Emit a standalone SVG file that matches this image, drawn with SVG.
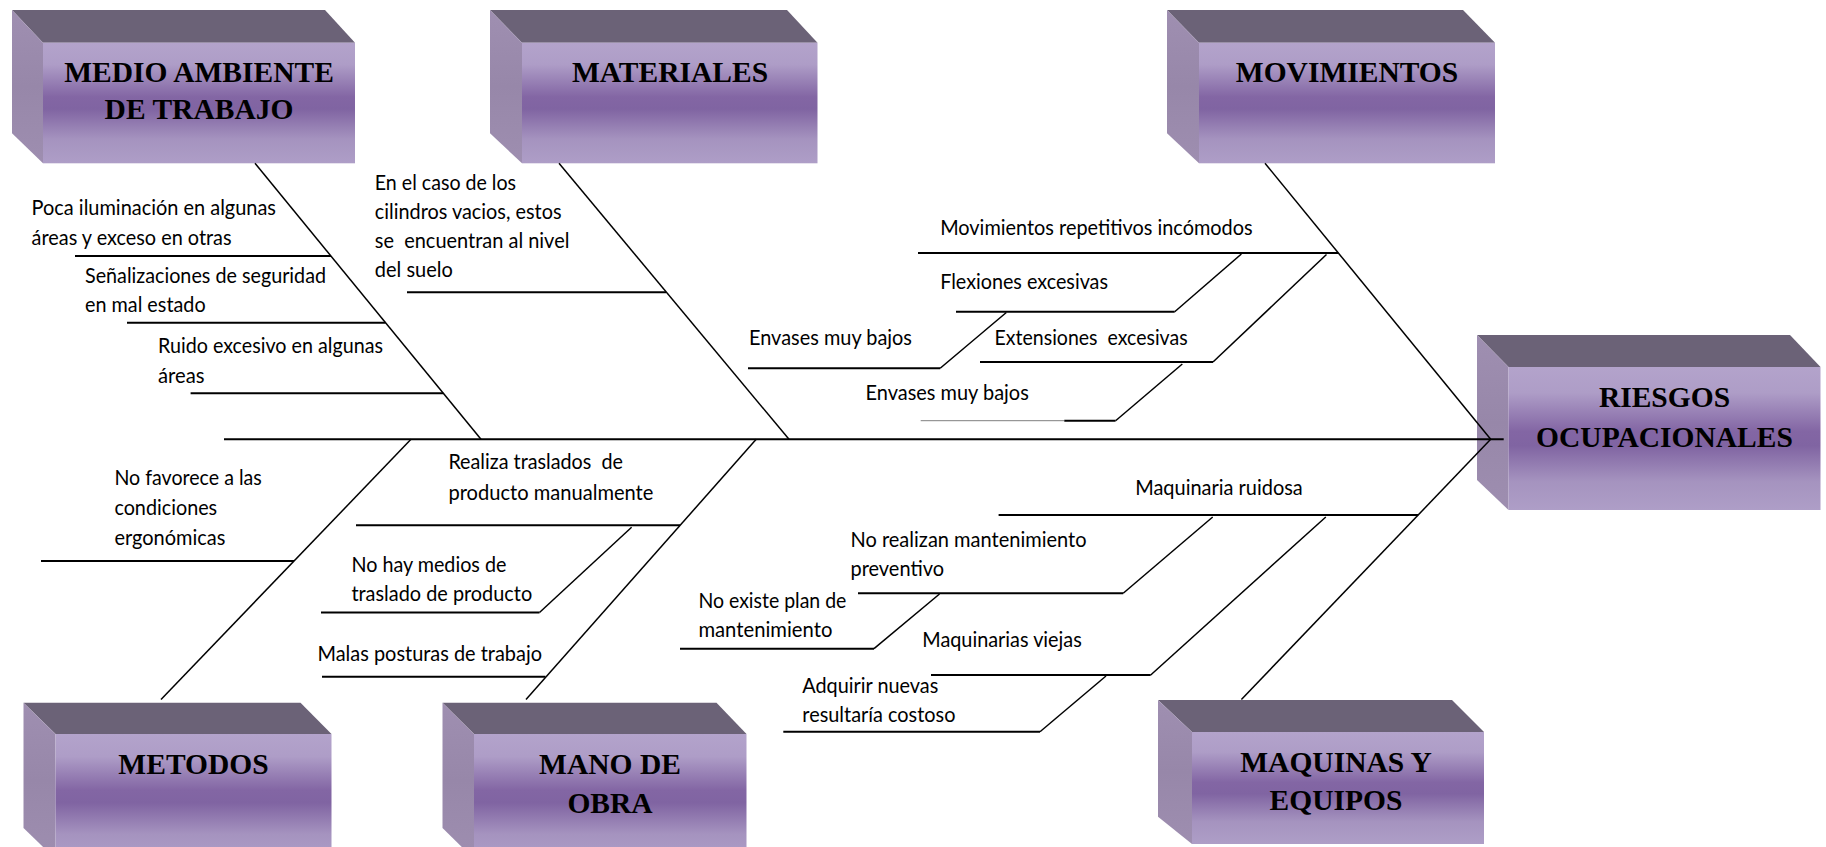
<svg xmlns="http://www.w3.org/2000/svg" width="1826" height="847" viewBox="0 0 1826 847">
<defs>
<linearGradient id="gFront" x1="0" y1="0" x2="0" y2="1">
<stop offset="0" stop-color="#b3a3cb"/>
<stop offset="0.18" stop-color="#ae9dc7"/>
<stop offset="0.45" stop-color="#8366a4"/>
<stop offset="0.55" stop-color="#8064a2"/>
<stop offset="0.8" stop-color="#a593bf"/>
<stop offset="1" stop-color="#ae9ec7"/>
</linearGradient>
<linearGradient id="gSide" x1="0" y1="0" x2="0" y2="1">
<stop offset="0" stop-color="#9f8fb1"/>
<stop offset="0.5" stop-color="#9787a9"/>
<stop offset="1" stop-color="#9e8eb0"/>
</linearGradient>
<style>
.top{fill:#6b6277}
.side{fill:url(#gSide)}
.front{fill:url(#gFront)}
.title{font-family:"Liberation Serif","Times New Roman",serif;font-weight:bold;font-size:29.5px;fill:#000;text-anchor:middle}
.lbl{font-family:Lato,"Open Sans","Liberation Sans",sans-serif;font-size:20.5px;fill:#000;white-space:pre}
.h{stroke:#000;stroke-width:2;fill:none}
.d{stroke:#000;stroke-width:1.5;fill:none}
.g{stroke:#7f7f7f;stroke-width:1;fill:none}
</style>
</defs>
<rect width="1826" height="847" fill="#fff"/>

<g id="medio-ambiente">
<polygon class="top" points="12,10 325,10 355,42.7 43,42.7"/>
<polygon class="side" points="12,10 43,42.7 43,163.3 12,133.3"/>
<rect class="front" x="43" y="42.7" width="312" height="120.6"/>
<text class="title" x="199" y="82">MEDIO AMBIENTE</text>
<text class="title" x="199" y="119">DE TRABAJO</text>
</g>

<g id="materiales">
<polygon class="top" points="490,10 787,10 817.5,42.7 522,42.7"/>
<polygon class="side" points="490,10 522,42.7 522,163.3 490,133.3"/>
<rect class="front" x="522" y="42.7" width="295.5" height="120.6"/>
<text class="title" x="670" y="82">MATERIALES</text>
</g>

<g id="movimientos">
<polygon class="top" points="1167,10 1463,10 1495,42.7 1199,42.7"/>
<polygon class="side" points="1167,10 1199,42.7 1199,163.3 1167,133.3"/>
<rect class="front" x="1199" y="42.7" width="296" height="120.6"/>
<text class="title" x="1347" y="82">MOVIMIENTOS</text>
</g>

<g id="riesgos-ocupacionales">
<polygon class="top" points="1477,335 1790,335 1820.5,367 1508.5,367"/>
<polygon class="side" points="1477,335 1508.5,367 1508.5,510 1477,480"/>
<rect class="front" x="1508.5" y="367" width="312" height="143"/>
<text class="title" x="1664.5" y="407">RIESGOS</text>
<text class="title" x="1664.5" y="447">OCUPACIONALES</text>
</g>

<g id="metodos">
<polygon class="top" points="23.5,702.7 300.5,702.7 331.5,734 55.5,734"/>
<polygon class="side" points="23.5,702.7 55.5,734 55.5,859 23.5,828"/>
<rect class="front" x="55.5" y="734" width="276" height="125"/>
<text class="title" x="193.5" y="773.5">METODOS</text>
</g>

<g id="mano-de-obra">
<polygon class="top" points="442.5,702.7 716.5,702.7 746.5,734 474,734"/>
<polygon class="side" points="442.5,702.7 474,734 474,859 442.5,828"/>
<rect class="front" x="474" y="734" width="272.5" height="125"/>
<text class="title" x="610" y="773.5">MANO DE</text>
<text class="title" x="610" y="812.5">OBRA</text>
</g>

<g id="maquinas-y-equipos">
<polygon class="top" points="1158,700 1452,700 1484,732 1192,732"/>
<polygon class="side" points="1158,700 1192,732 1192,844 1158,816.7"/>
<rect class="front" x="1192" y="732" width="292" height="112"/>
<text class="title" x="1336" y="771.5">MAQUINAS Y</text>
<text class="title" x="1336" y="810">EQUIPOS</text>
</g>

<g id="connectors">
<line class="h" x1="224" y1="439.3" x2="1503.7" y2="439.3"/>
<line class="d" x1="255" y1="163.3" x2="481" y2="439.3"/>
<line class="d" x1="559" y1="163.3" x2="789" y2="439.3"/>
<line class="d" x1="1265" y1="163.3" x2="1490.7" y2="439.3"/>
<line class="d" x1="1490.7" y1="439.3" x2="1241.4" y2="699.5"/>
<line class="d" x1="411" y1="439.3" x2="161" y2="699.5"/>
<line class="d" x1="756.2" y1="439.3" x2="526" y2="699.5"/>
<line class="h" x1="75" y1="256" x2="331" y2="256"/>
<line class="h" x1="127" y1="322.7" x2="385.5" y2="322.7"/>
<line class="h" x1="190.6" y1="393.3" x2="443.3" y2="393.3"/>
<line class="h" x1="407" y1="292.3" x2="666" y2="292.3"/>
<line class="h" x1="918" y1="253" x2="1338.2" y2="253"/>
<line class="d" x1="1241.4" y1="254" x2="1174.7" y2="311.7"/>
<line class="h" x1="956" y1="311.7" x2="1174.7" y2="311.7"/>
<line class="d" x1="1006.3" y1="312.5" x2="940.2" y2="368.3"/>
<line class="h" x1="748" y1="368.3" x2="940.2" y2="368.3"/>
<line class="d" x1="1326.5" y1="254.5" x2="1213" y2="362"/>
<line class="h" x1="980" y1="362" x2="1213" y2="362"/>
<line class="d" x1="1182.3" y1="364" x2="1115.6" y2="420.7"/>
<line class="g" x1="920.7" y1="420.7" x2="1064.3" y2="420.7"/>
<line class="h" x1="1064.3" y1="420.7" x2="1115.6" y2="420.7"/>
<line class="h" x1="41" y1="561" x2="294" y2="561"/>
<line class="h" x1="356" y1="525.3" x2="680" y2="525.3"/>
<line class="d" x1="631.6" y1="527.3" x2="539.5" y2="612.5"/>
<line class="h" x1="321" y1="612.5" x2="539.5" y2="612.5"/>
<line class="h" x1="322" y1="676.7" x2="545.5" y2="676.7"/>
<line class="h" x1="998.6" y1="515" x2="1418.2" y2="515"/>
<line class="d" x1="1212.7" y1="517" x2="1123.2" y2="593.3"/>
<line class="h" x1="858" y1="593.3" x2="1123.2" y2="593.3"/>
<line class="d" x1="939.5" y1="594" x2="874" y2="648.7"/>
<line class="h" x1="680" y1="648.7" x2="874" y2="648.7"/>
<line class="d" x1="1325.8" y1="517" x2="1150.7" y2="675"/>
<line class="h" x1="931" y1="675" x2="1150.7" y2="675"/>
<line class="d" x1="1106" y1="676" x2="1040" y2="731.7"/>
<line class="h" x1="783.3" y1="731.7" x2="1040" y2="731.7"/>
</g>

<g id="labels-medio-ambiente">
<text class="lbl" x="31.6" y="215" textLength="244.4" lengthAdjust="spacingAndGlyphs">Poca iluminación en algunas</text>
<text class="lbl" x="31.6" y="245" textLength="200" lengthAdjust="spacingAndGlyphs">áreas y exceso en otras</text>
<text class="lbl" x="85" y="283" textLength="241" lengthAdjust="spacingAndGlyphs">Señalizaciones de seguridad</text>
<text class="lbl" x="85" y="312" textLength="120.6" lengthAdjust="spacingAndGlyphs">en mal estado</text>
<text class="lbl" x="158" y="353" textLength="225" lengthAdjust="spacingAndGlyphs">Ruido excesivo en algunas</text>
<text class="lbl" x="158" y="382.5" textLength="46.5" lengthAdjust="spacingAndGlyphs">áreas</text>
</g>

<g id="labels-materiales">
<text class="lbl" x="374.8" y="190" textLength="141.3" lengthAdjust="spacingAndGlyphs">En el caso de los</text>
<text class="lbl" x="374.8" y="219" textLength="186.7" lengthAdjust="spacingAndGlyphs">cilindros vacios, estos</text>
<text class="lbl" x="374.8" y="248" textLength="194.6" lengthAdjust="spacingAndGlyphs">se  encuentran al nivel</text>
<text class="lbl" x="374.8" y="277" textLength="78" lengthAdjust="spacingAndGlyphs">del suelo</text>
</g>

<g id="labels-movimientos">
<text class="lbl" x="940.2" y="234.5" textLength="312.4" lengthAdjust="spacingAndGlyphs">Movimientos repetitivos incómodos</text>
<text class="lbl" x="940.2" y="288.5" textLength="167.8" lengthAdjust="spacingAndGlyphs">Flexiones excesivas</text>
<text class="lbl" x="749" y="345" textLength="163" lengthAdjust="spacingAndGlyphs">Envases muy bajos</text>
<text class="lbl" x="994.6" y="344.5" textLength="193" lengthAdjust="spacingAndGlyphs">Extensiones  excesivas</text>
<text class="lbl" x="865.5" y="400" textLength="163.3" lengthAdjust="spacingAndGlyphs">Envases muy bajos</text>
</g>

<g id="labels-metodos">
<text class="lbl" x="114.4" y="484.5" textLength="147.4" lengthAdjust="spacingAndGlyphs">No favorece a las</text>
<text class="lbl" x="114.4" y="515" textLength="102.8" lengthAdjust="spacingAndGlyphs">condiciones</text>
<text class="lbl" x="114.4" y="545" textLength="111" lengthAdjust="spacingAndGlyphs">ergonómicas</text>
</g>

<g id="labels-mano-de-obra">
<text class="lbl" x="448.4" y="469" textLength="174.5" lengthAdjust="spacingAndGlyphs">Realiza traslados  de</text>
<text class="lbl" x="448.4" y="499.5" textLength="205" lengthAdjust="spacingAndGlyphs">producto manualmente</text>
<text class="lbl" x="351.4" y="571.5" textLength="155" lengthAdjust="spacingAndGlyphs">No hay medios de</text>
<text class="lbl" x="351.4" y="600.5" textLength="180.8" lengthAdjust="spacingAndGlyphs">traslado de producto</text>
<text class="lbl" x="317.5" y="660.5" textLength="224.5" lengthAdjust="spacingAndGlyphs">Malas posturas de trabajo</text>
</g>

<g id="labels-maquinas">
<text class="lbl" x="1135.2" y="494.5" textLength="167.6" lengthAdjust="spacingAndGlyphs">Maquinaria ruidosa</text>
<text class="lbl" x="850.5" y="546.5" textLength="236" lengthAdjust="spacingAndGlyphs">No realizan mantenimiento</text>
<text class="lbl" x="850.5" y="576" textLength="93.5" lengthAdjust="spacingAndGlyphs">preventivo</text>
<text class="lbl" x="698.4" y="607.5" textLength="148" lengthAdjust="spacingAndGlyphs">No existe plan de</text>
<text class="lbl" x="698.4" y="637" textLength="134" lengthAdjust="spacingAndGlyphs">mantenimiento</text>
<text class="lbl" x="922.3" y="646.5" textLength="159.5" lengthAdjust="spacingAndGlyphs">Maquinarias viejas</text>
<text class="lbl" x="802.3" y="692.5" textLength="136" lengthAdjust="spacingAndGlyphs">Adquirir nuevas</text>
<text class="lbl" x="802.3" y="722" textLength="153.2" lengthAdjust="spacingAndGlyphs">resultaría costoso</text>
</g>
</svg>
